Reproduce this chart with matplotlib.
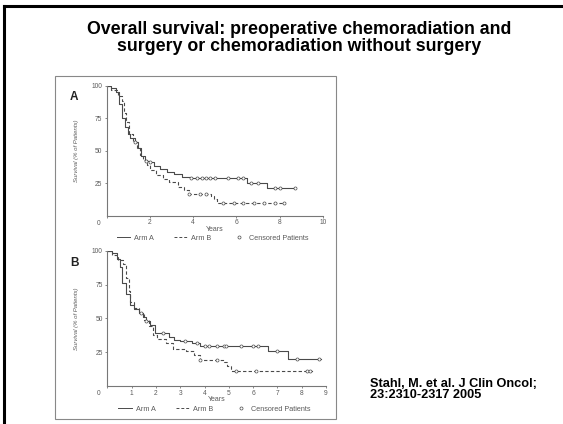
import numpy as np
import matplotlib.pyplot as plt
from matplotlib.lines import Line2D
from matplotlib.patches import Rectangle

plt.rcParams['font.family'] = ['Liberation Sans', 'DejaVu Sans']

title = "Overall survival: preoperative chemoradiation and\nsurgery or chemoradiation without surgery"
citation = "Stahl, M. et al. J Clin Oncol;\n23:2310-2317 2005"

# Panel A - step times (years) and survival (%)
a_arm_a_t = [0, 0.2, 0.45, 0.55, 0.7, 0.85, 1.0, 1.1, 1.3, 1.45, 1.6, 1.75, 2.0, 2.2, 2.45, 2.8, 3.1, 3.5, 3.85, 6.5, 7.4, 8.7]
a_arm_a_s = [100, 98, 95, 86, 75, 68, 63, 60, 57, 52, 46, 42, 41, 38, 36, 34, 32, 30, 29, 25, 21, 21]
a_arm_b_t = [0, 0.2, 0.5, 0.7, 0.8, 0.9, 1.05, 1.2, 1.4, 1.55, 1.7, 1.85, 2.0, 2.3, 2.6, 2.9, 3.3, 3.6, 3.8, 4.85, 4.95, 5.1, 8.25]
a_arm_b_s = [100, 97, 92, 88, 79, 72, 63, 57, 52, 47, 43, 39, 35, 31, 28, 26, 22, 20, 17, 15, 13, 10, 10]
a_cens_a = [1.3, 1.8, 2.0, 3.9, 4.2, 4.4, 4.6, 4.8, 5.0, 5.6, 6.1, 6.3, 6.7, 7.0, 7.8, 8.0, 8.7]
a_cens_b = [3.8, 4.3, 4.6, 5.4, 5.9, 6.3, 6.8, 7.3, 7.8, 8.2]

# Panel B
b_arm_a_t = [0, 0.18, 0.4, 0.52, 0.62, 0.75, 0.93, 1.1, 1.3, 1.45, 1.6, 1.76, 1.95, 2.55, 2.75, 3.0, 3.5, 3.8, 6.6, 7.45, 8.8]
b_arm_a_s = [100, 98, 94, 88, 76, 68, 60, 57, 54, 51, 48, 45, 39, 36, 34, 33, 31.5, 29.5, 26, 20, 20]
b_arm_b_t = [0, 0.18, 0.45, 0.65, 0.78, 0.88, 0.95, 1.1, 1.3, 1.5, 1.7, 1.88, 2.05, 2.4, 2.7, 3.25, 3.55, 3.8, 4.8, 4.92, 5.1, 8.45]
b_arm_b_s = [100, 97, 93, 90, 80, 70, 62, 58, 54, 49, 44, 38, 35, 32, 27, 26, 23, 19, 18, 15, 11, 11]
b_cens_a = [1.4, 1.6, 2.3, 3.2, 3.7, 4.0, 4.2, 4.5, 4.8, 4.9, 5.5, 6.0, 6.2, 7.0, 7.8, 8.7]
b_cens_b = [3.8, 4.5, 5.3, 6.1, 8.2, 8.35]

line_col = '#4a4a4a'
text_col = '#5a5a5a'


def survival_at(t, times, surv):
    i = np.searchsorted(times, t, side='right') - 1
    return surv[max(i, 0)]


def draw_panel(ax, ta, sa, tb, sb, ca, cb, xmax, xticks, letter):
    ax.step(ta, sa, where='post', color=line_col, lw=0.8)
    ax.step(tb, sb, where='post', color=line_col, lw=0.8, ls=(0, (3, 2)))
    for times, surv, cens in [(ta, sa, ca), (tb, sb, cb)]:
        ys = [survival_at(c, times, surv) for c in cens]
        ax.plot(cens, ys, 'o', ms=2.2, mfc='white', mec=line_col, mew=0.5)
    ax.set_xlim(0, xmax)
    ax.set_ylim(0, 100)
    ax.set_xticks(xticks)
    ax.set_xticklabels([str(x) if x != 0 else '' for x in xticks])
    ax.set_yticks([25, 50, 75, 100])
    ax.tick_params(labelsize=4.8, colors=text_col, length=1.2, width=0.5, pad=2)
    ax.tick_params(axis='x', pad=1.5)
    for s in ['top', 'right']:
        ax.spines[s].set_visible(False)
    for s in ['left', 'bottom']:
        ax.spines[s].set_color('#777777')
        ax.spines[s].set_linewidth(0.8)
    ax.set_xlabel('Years', fontsize=5, color=text_col, labelpad=-0.5)
    ax.set_ylabel('Survival (% of Patients)', fontsize=4.3, color=text_col, style='italic', labelpad=9)
    ax.text(-0.17, 0.89, letter, transform=ax.transAxes, fontsize=8.5, fontweight='bold', color='#222222')
    ax.text(-0.03, -0.03, '0', transform=ax.transAxes, fontsize=4.8, color=text_col, ha='right', va='top')
    handles = [Line2D([], [], color=line_col, lw=0.7),
               Line2D([], [], color=line_col, lw=0.7, ls=(0, (3, 2))),
               Line2D([], [], ls='none', marker='o', ms=2.2, mfc='white', mec=line_col, mew=0.5)]
    ax.legend(handles, ['Arm A', 'Arm B', 'Censored Patients'], ncol=3, loc='upper center',
              bbox_to_anchor=(0.49, -0.12), frameon=False, fontsize=5.2, labelcolor=text_col,
              handlelength=1.9, columnspacing=2.8, handletextpad=0.5, borderpad=0)


fig = plt.figure(figsize=(5.63, 4.24), dpi=100)

# slide frame
fig.add_artist(Line2D([4 / 563, 1], [1 - 6 / 424, 1 - 6 / 424], color='black', lw=2.2))
fig.add_artist(Line2D([4 / 563, 4 / 563], [0, 1 - 6 / 424], color='black', lw=2.2))
# figure image box
fig.add_artist(Rectangle((55 / 563, 1 - 419 / 424), (336 - 55) / 563, (419 - 76) / 424,
                         fill=False, ec='#888888', lw=0.8))

fig.text(299 / 563, 1 - 38 / 424, title, ha='center', va='center', fontsize=12.8,
         fontweight='bold', linespacing=1.05)
fig.text(370 / 563, 1 - 389.5 / 424, citation, ha='left', va='center', fontsize=9.2,
         fontweight='bold', linespacing=0.95)

ax_a = fig.add_axes([106.7 / 563, 1 - 215.7 / 424, 216 / 563, 130 / 424])
draw_panel(ax_a, a_arm_a_t, a_arm_a_s, a_arm_b_t, a_arm_b_s, a_cens_a, a_cens_b,
           10, [0, 2, 4, 6, 8, 10], 'A')

ax_b = fig.add_axes([107.3 / 563, 1 - 386 / 424, 218.7 / 563, 135.3 / 424])
draw_panel(ax_b, b_arm_a_t, b_arm_a_s, b_arm_b_t, b_arm_b_s, b_cens_a, b_cens_b,
           9, list(range(10)), 'B')

fig.savefig('out.png', dpi=100)
